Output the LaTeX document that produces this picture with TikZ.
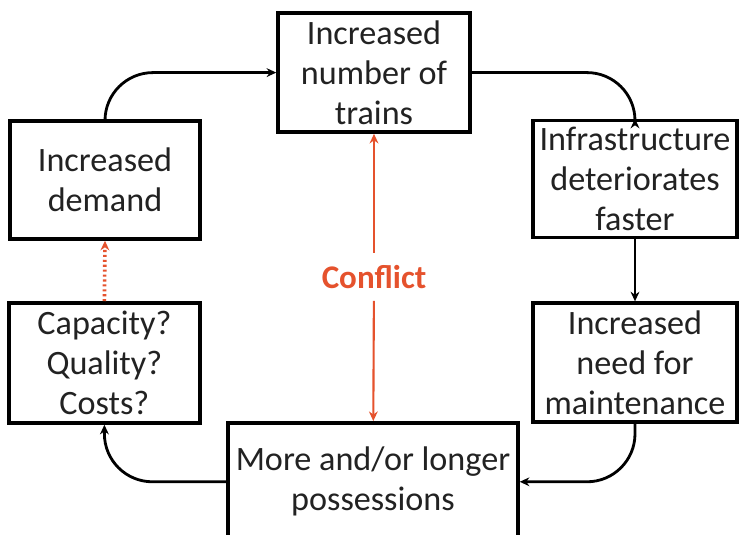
\documentclass[tikz,border=0pt]{standalone}
\usepackage{fontspec}
\setmainfont{Carlito}
\usetikzlibrary{arrows.meta,positioning}
\definecolor{conflictred}{HTML}{E5522D}
\definecolor{boxtext}{HTML}{222222}

\begin{document}
\begin{tikzpicture}[
  box/.style={draw=black, line width=2.5pt, fill=white, align=center, text=boxtext,
    font=\fontsize{24.3}{28.5}\selectfont, inner sep=0pt},
  flow/.style={-{Stealth[length=2.4mm,width=2.2mm]}, line width=2pt, rounded corners=1.2cm},
  confl/.style={-{Stealth[length=2.4mm,width=2.2mm]}, line width=1.5pt, conflictred}
]
  \useasboundingbox (0,0) rectangle (18.475,13.375);
  \clip (0,0) rectangle (18.475,13.375);
  % boxes of the loop
  \node[box, minimum width=4.8cm, minimum height=2.975cm] (trains) at (9.35,11.56) {Increased\\number of\\trains};
  \node[box, minimum width=5.1cm, minimum height=2.925cm] (infra) at (15.875,8.9) {Infrastructure\\deteriorates\\faster};
  \node[box, minimum width=5.1cm, minimum height=2.975cm] (need) at (15.875,4.31) {Increased\\need for\\maintenance};
  \node[box, minimum width=7.25cm, minimum height=2.95cm] (poss) at (9.325,1.33) {More and/or longer\\possessions};
  \node[box, minimum width=4.775cm, minimum height=3.0cm] (capa) at (2.61,4.3) {Capacity?\\Quality?\\Costs?};
  \node[box, minimum width=4.75cm, minimum height=2.95cm] (demand) at (2.625,8.875) {Increased\\demand};
  \node[font=\fontsize{23.5}{28}\selectfont\bfseries, text=conflictred, inner xsep=0pt, inner ysep=0.3cm]
    (conflict) at (trains.south |- 0,6.45) {Conflict};
  % arrows
  \draw[flow] (demand.north) |- (trains.west);
  \draw[flow] (trains.east) -| (infra.north);
  \draw[flow] (infra.south) -- (need.north);
  \draw[flow] (need.south) |- (poss.east);
  \draw[flow] (poss.west) -| (capa.south);
  \draw[confl, dotted, line width=2.6pt] (capa.north) -- (demand.south);
  \draw[confl] (conflict) -- (trains);
  \draw[confl] (conflict) -- (poss);
\end{tikzpicture}
\end{document}
